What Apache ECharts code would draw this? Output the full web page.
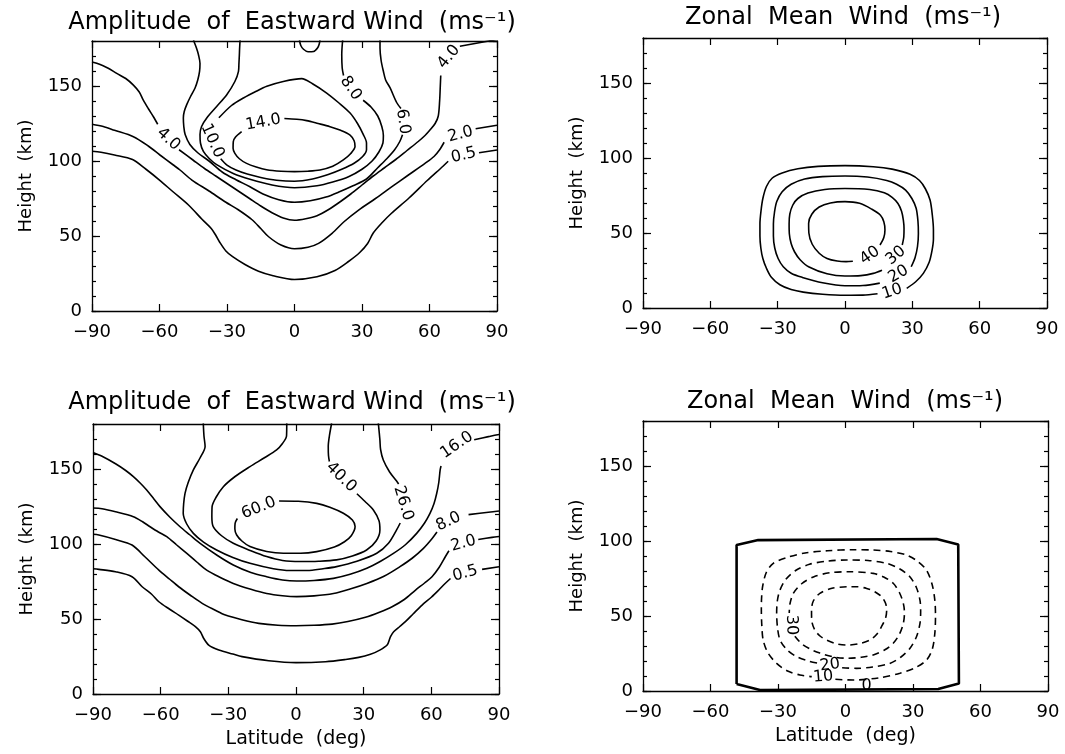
<!DOCTYPE html>
<html><head><meta charset="utf-8">
<script src="https://cdn.jsdelivr.net/npm/echarts@6/dist/echarts.min.js"></script>
<style>html,body{margin:0;padding:0;background:#fff}#c{width:1065px;height:754px}</style>
</head><body><div id="c"></div>
<script>
// ---------- DATA: contour lines as [latitude, height] points (null = gap for a label) ----------
// Top-left: Amplitude of Eastward Wind, levels 0.5 2 4 6 8 10 14
const TL_05 = [[-90,106.5],[-86,105.8],[-80,104],[-72,101],[-66,94.5],[-60,87.3],[-54,79.5],[-47,70.5],[-41,61],[-37,55],[-35,50.5],[-33.3,46],[-30.5,40],[-27.5,36.2],[-22,31],[-16,26.5],[-9.5,23.5],[0,21],[10,22.8],[18,27],[24,33],[29,39],[32.5,45],[35,52],[39,59],[43,65],[51,75.5],[59,87],[66,96.5],[68.3,99.8],null,[82,105.5],[90,107.3]];
const TL_2 = [[-90,124.5],[-85,123],[-80,120.5],[-71.6,116.2],[-65,110],[-59.8,104],[-54,97.5],[-50.9,94],[-45.6,87.3],[-38,80],[-30.5,72.5],[-25,67.5],[-19,61],[-15,55],[-11.5,49.5],[-6,44],[0,41.5],[6,42.5],[10.7,45.1],[16.7,51.8],[22,59.5],[28.5,67.3],[36,75],[43.3,82.9],[50,90],[58,98.4],[62,103],[64.5,107.5],[66.5,112.5],null,[80.5,121.5],[90,123.8]];
const TL_4 = [[-90,166],[-87.9,165.1],[-83,162],[-79,158.4],[-75,155],[-71.6,150.6],[-69,146],[-67.2,140.6],[-65,135],[-62.7,129.5],[-60.8,124.5],null,[-51.3,107.5],[-45,100.5],[-40,95],[-35,90],[-30,85],[-25,80],[-20,75],[-15,70],[-10,65.5],[-5,62],[0,60.5],[5,61.5],[10,63.5],[15,67.5],[20,72.5],[25,78],[30,84],[35,90],[40,95.5],[45,101],[50,107],[55,113],[58,117],[60.2,120.6],[62.5,125],[63.9,130],[64.5,140],[64.8,150],[65,157],null,[73.5,176.5],[90,181]];
const TL_6 = [[-44.9,180.5],[-43.5,175],[-42.7,170.9],[-42,165],[-42.2,159.8],[-43,154],[-44.2,148.7],[-46.2,143],[-47.9,137.6],[-49,133],[-49.4,128.7],[-49.2,123],[-48.6,117.6],[-46.5,111],[-43,105.5],[-38,100],[-32,92.5],[-26,87.5],[-20,83],[-14,78],[-7,74.2],[0,72.5],[7,73.5],[14,76],[20,79.5],[26,83.5],[32,88],[37,95.5],[41,101.5],[44.5,107.5],[46.8,113],[48,117.5],null,[47.3,135],[45.4,139],[42.5,148.7],[40.5,154],[39.5,159.8],[38.5,167],[38,175.3],[38,180.5]];
const TL_8 = [[-24.2,180.5],[-24.4,175],[-24.5,170.9],[-24.7,165],[-24.9,159.8],[-26.5,153],[-30.1,144.2],[-34.5,136.5],[-39,128.7],[-41.3,123],[-42,117.6],[-41.8,112],[-40.5,106.4],[-37.8,101.5],[-34.6,97.6],[-27,91.5],[-19.8,87.8],[-10,84],[0,82.2],[10,83.5],[17,86],[24,89.5],[30,94.5],[34.5,100],[37.5,106],[39.3,112],[39.5,117],[38.8,123],[37,130],[34,136],[30.5,140.5],null,[21.8,157],[21.2,162],[21,171],[21.4,180.5]];
const TL_10 = [[-33.6,128.8],[-28,137],[-22.7,142],[-17,146.5],[-12.3,149.8],[-5,153],[3.2,154.9],[8,151.5],[14.3,145.3],[19.5,139],[24.7,132],[28,125],[30.6,117.6],[32,112],[32,107.5],[30.3,103],[26.5,98.5],[21,94.5],[15,91],[8,88],[0,86.5],[-8,87.2],[-15,89],[-21,91.3],[-26,94],[-30,97.3],[-32.8,101.5]];
const TL_10B = [[2.2,180.5],[2.8,177],[4,174.5],[6,172.8],[8.5,173],[10.3,175.5],[11,178],[11.3,180.5]];
const TL_14 = [[-23.5,119.6],[-26.2,116],[-27.2,112.9],[-27.3,108.5],[-26.5,105.1],[-24.5,101.5],[-21.3,98.4],[-17,96],[-12.4,94.2],[-6,93.2],[0,92.9],[6,93.2],[11.3,94],[17,96.5],[21.7,100.7],[25,105],[26.9,109.6],[26.5,113.5],[24.7,117.3],[20.5,120.5],[15.8,122.9],[10.5,125],[5.4,126.9],[1,127.8],[-4.5,128.3]];
const TL_LABELS = [[-13.9,125.8,'14.0',10],[-36.5,113.5,'10.0',-66],[25,148.5,'8.0',-55],[48.2,126.3,'6.0',-82],[-56,114.5,'4.0',-42],[68.6,169.5,'4.0',51],[73.8,117.8,'2.0',15],[75.2,103.8,'0.5',13]];

// Top-right: Zonal Mean Wind, levels 10 20 30 40
const TR_10 = [[27.5,13.1],[31.5,17.5],[34.9,23.1],[37.5,30.5],[38.8,38.6],[39.4,46],[39.4,52],[38.9,62],[37.9,72],[35.8,79.5],[33.2,85],[29,89.2],[21,92.6],[12.6,94.2],[0,94.9],[-12,94.4],[-21,92.8],[-28,90],[-32.5,86.5],[-35,81],[-36.6,73],[-37.4,65],[-37.9,56],[-37.9,48],[-37.5,40],[-36.6,33],[-35,26.5],[-32.8,20.5],[-29,15.5],[-24,12.3],[-18.6,10.6],[-10,9.2],[0,8.5],[8,8.6],[14.5,9.5]];
const TR_20 = [[29.5,27.5],[31.2,33.5],[32.3,41],[32.7,49.7],[32.5,58],[31.7,66.5],[29.8,73],[27,78.6],[23,82.5],[18.6,85],[10,87.3],[0,88],[-10,87.6],[-18,86],[-24,82.5],[-28,77.5],[-30.4,71],[-31.4,64],[-31.9,56],[-31.9,48],[-31.3,40],[-29.8,33],[-27.5,27.5],[-24,23.2],[-19,20.4],[-10,16.8],[0,14.8],[8,15],[15.5,16.6]];
const TR_30 = [[25.5,42],[26.2,47.5],[26.3,53],[26,58.6],[25.2,64.5],[23.6,69.7],[21,73.8],[17.5,76.8],[11,79],[0,79.7],[-9,79],[-16.5,76.6],[-21,73],[-23.3,68.5],[-24.6,62.5],[-24.9,56],[-24.8,49.5],[-24,43],[-22.5,37.5],[-20,32.2],[-16,27.3],[-8,22.8],[0,21.3],[7,21.6],[12.6,23.1],[16.5,25.2]];
const TR_40 = [[15.6,42],[17.3,47],[17.8,52],[17.3,57.5],[15.8,61.8],[12,65.8],[6.5,69.8],[0,70.9],[-6.5,70],[-11.5,67.3],[-14.8,62.5],[-16.2,56.5],[-16.1,50],[-14.6,42.5],[-11.5,36.5],[-8,33],[-3.5,31.3],[0.5,30.9],[3.5,31.2]];
const TR_LABELS = [[11.1,35,'40',35],[22.7,35,'30',40],[23.8,22.6,'20',30],[21,10.9,'10',18]];

// Bottom-left: Amplitude of Eastward Wind, levels 0.5 2 8 16 26 40 60
const BL_05 = [[-90,83.5],[-87.4,83.1],[-80,81.5],[-72.7,78.2],[-68.2,71.5],[-64,66.5],[-60.8,61.5],[-56,56.5],[-52,52.6],[-48,48.5],[-44.6,44.9],[-42.4,41.5],[-40.9,37],[-38.7,32.6],[-34.2,29.3],[-28,26.6],[-23.9,24.9],[-12.1,22.2],[0,20.9],[13.1,21.5],[22,23],[27.8,24.4],[33,26.5],[36.7,28.9],[40.4,32.6],[41.9,38.2],[43.3,41.5],[46,45],[48.5,48.2],[52,53.5],[55.9,59.3],[60,64.5],[63.3,69.3],[66,73.5],[68.5,77],null,[82.5,83.1],[90,84.8]];
const BL_2 = [[-90,106.5],[-87.4,106],[-80,103],[-72.7,99.3],[-67,91.5],[-60.8,82.6],[-56,76.5],[-52,71.5],[-47,66],[-41.6,60.4],[-36,56],[-31.3,52.6],[-24,49.5],[-16.5,47.1],[-8,45.8],[0,45.5],[8,45.8],[16,46.6],[23,48.3],[30.8,51.1],[37,54.5],[42.6,58.2],[48,63],[53,69.3],[57,74],[60.3,78.2],[63.5,84.5],[66.2,91.5],[67.8,95.5],null,[80.8,103],[86.9,104.4],[90,105]];
const BL_8 = [[-90,124],[-86,123.5],[-80,121.5],[-72.1,118.2],[-68,114.8],[-64.7,111.5],[-61,108],[-57.3,104.9],[-53,99.5],[-48.4,93.7],[-44,88],[-39.6,82.6],[-34,78],[-27.8,73.7],[-20,69.8],[-13,67],[-6,65.5],[0.3,64.9],[8,65.4],[16.6,67],[24,70],[31.4,73.7],[39,78.5],[46.1,84.9],[51.5,90.5],[56.5,97.1],[60,103],[62.5,108],null,[76.5,119.6],[85.3,121.2],[90,122]];
const BL_16 = [[-90,161],[-86,158.5],[-80,153.5],[-75.5,149],[-72.1,144.9],[-69,140.5],[-66.2,136],[-63,130],[-60.3,124.9],[-56,118],[-51.4,111.5],[-47,106],[-42.5,100.4],[-35,92.5],[-27.8,86],[-20,81],[-13,78.2],[-6,76],[0.3,75.3],[8,75.7],[16.6,77.1],[24,79.8],[31.4,83.8],[37.5,88.5],[43.2,93.7],[48.5,99.5],[53.5,107.1],[57,114],[59.4,120.4],[61.2,127],[62.4,133.8],[63.3,141],[63.9,149.3],[64.3,152],null,[79,169.5],[85.3,171.6],[90,173]];
const BL_26 = [[-41.1,180.5],[-40.8,172],[-40.3,165],[-42.5,157.5],[-45.5,149.4],[-47.8,141],[-49.2,133.8],[-49.8,127],[-50,120.5],[-48.5,113.5],[-45.5,107.1],[-41,101.3],[-35.2,96],[-28,91],[-20.4,87.1],[-10,83.5],[-2.7,82.3],[5,82.3],[12,83.5],[18,84.9],[27,88.5],[35.8,93.8],[41,100.5],[44.6,109.4],[46.2,114],null,[45.5,140],[44.6,142],[41.5,148],[38.7,156],[37.5,163],[37.2,169.4],[36.5,180.5]];
const BL_40 = [[-4.1,180.5],[-4.2,172],[-6,167],[-8.6,162.7],[-14,157.5],[-20.4,151.6],[-27,145],[-32.2,138.2],[-35.5,131],[-37.2,124.9],[-37.3,118],[-36.7,111.6],[-33,105.5],[-27.8,100.5],[-20,95.5],[-13,91.6],[-6,89],[1.8,88.3],[10,88.5],[18,89.4],[25,92],[31.3,96],[35.5,102],[37.2,109.4],[36.8,115.5],[34.3,122.7],[30.5,128.5],[27,133.5],null,[14.8,155],[14.4,159],[14.3,165],[14.8,172],[15.8,180.5]];
const BL_60 = [[-26,117],[-27,113.8],[-27.1,110],[-26.3,106],[-24,102],[-20.4,98.3],[-13,95],[-5.6,93.8],[2,93.8],[9.2,94.9],[17,98],[21.5,101.5],[24.5,105.5],[26.2,111.6],[25,116],[21,120.5],[15,124.5],[9.2,127.1],[1,128.5],[-7.5,128.7]];
const BL_LABELS = [[-16.5,124,'60.0',22],[20,144.5,'40.0',-44],[47.6,127.1,'26.0',-73],[71.3,166,'16.0',34],[67.6,114.9,'8.0',25],[74.2,100.4,'2.0',15],[75,80.4,'0.5',15]];

// Bottom-right: Zonal Mean Wind, levels 0 (solid), -10 -20 -30 -40 (dashed)
const BR_0 = [[-48.4,4.6],[-48.4,97.3],[-38.8,100.6],[40.5,101.3],[50.1,97.7],[50.4,5],[41.2,1.3],[-38,0.6],[-48.4,4.6]];
const BR_M10 = [[-4.5,7.8],[3.4,7.3],[15,8.8],[24.2,11.8],[31,15.5],[36,20.6],[38.6,28],[39.7,38.4],[40,50],[39.7,60.6],[38.5,71],[36,80.6],[32,86.5],[27.2,90.6],[20,93],[12.3,94],[3.4,94.2],[-8,93.5],[-18,92],[-26,89],[-32.1,85.1],[-35.2,79],[-36.8,70],[-37.3,62],[-37.4,54],[-37.2,44],[-36.6,34],[-34.5,25.5],[-30.6,18.4],[-26,13.5],[-20.3,10.7],[-15,9.6]];
const BR_M20 = [[-1.5,15.5],[4.9,15.1],[12,16],[19.7,18.4],[24.5,22.5],[28.6,28.4],[31.5,36],[33.1,45.1],[33.4,53],[33.1,60.6],[31.5,69],[28.6,76.2],[24,81.5],[18.3,85.1],[10,87],[0.5,87.3],[-8,86.6],[-16,84.5],[-22,80.5],[-26.5,74.5],[-29.2,67],[-30.3,60],[-30.6,51.8],[-30.2,42],[-29.1,34],[-26,27.5],[-21.7,22.9],[-16,19.8],[-12.5,18.6]];
const BR_M30 = [[-22.5,36.5],[-19.5,31.5],[-15.5,27.8],[-11.4,25.3],[-5,22.6],[1.2,21.8],[7,22.5],[12.3,24],[17.5,27.5],[21.2,31.8],[24,38],[25.7,45.1],[26.2,52],[25.7,58.4],[24,65.5],[21.2,71.8],[17,76],[12.3,78.4],[1.2,79.5],[-7,78.8],[-14,76.2],[-19.5,71.5],[-23.2,65.1],[-24.7,58],[-25,52]];
const BR_M40 = [[0.5,69.5],[-6,68.5],[-11.4,65.1],[-14.3,60],[-15.1,54],[-15,47],[-13.6,40.6],[-11.2,36.5],[-8.4,34],[-4,31.5],[0.5,30.6],[6,31.5],[10.9,34],[14,38],[16,42.9],[17.8,48.5],[18.3,54],[17.8,58.5],[16,62.9],[13,66.2],[9.4,68.4],[5,69.5],[0.5,69.5]];
const BR_LABELS = [[-24,44,'30',-88],[-6.9,17.3,'20',8],[-9.9,9.5,'10',5],[9.4,3.5,'0',0]];

const TITLE_AMP = 'Amplitude  of  Eastward Wind  (ms\u207B\u00B9)';
const TITLE_ZON = 'Zonal  Mean  Wind  (ms\u207B\u00B9)';

// ---------- LAYOUT / STYLE ----------
const FONT = '"DejaVu Sans", sans-serif';
const panels = [
  {grid:{left:92,top:41,width:405,height:270}, title:TITLE_AMP, tx:292, ty:23, xName:'',
   lines:[TL_05,TL_2,TL_4,TL_6,TL_8,TL_10,TL_10B,TL_14].map(d=>({d})), labels:TL_LABELS},
  {grid:{left:643,top:38,width:404,height:270}, title:TITLE_ZON, tx:843, ty:18, xName:'',
   lines:[TR_10,TR_20,TR_30,TR_40].map(d=>({d})), labels:TR_LABELS},
  {grid:{left:93,top:424,width:406,height:270}, title:TITLE_AMP, tx:292, ty:403, xName:'Latitude  (deg)',
   lines:[BL_05,BL_2,BL_8,BL_16,BL_26,BL_40,BL_60].map(d=>({d})), labels:BL_LABELS},
  {grid:{left:643,top:421,width:405,height:270}, title:TITLE_ZON, tx:845, ty:402, xName:'Latitude  (deg)',
   lines:[{d:BR_0,w:2.6,smooth:false}].concat([BR_M10,BR_M20,BR_M30,BR_M40].map(d=>({d,dash:true}))), labels:BR_LABELS}
];

function segments(arr){
  const out=[]; let cur=[];
  arr.forEach(p=>{ if(p===null){ if(cur.length) out.push(cur); cur=[]; } else cur.push(p); });
  if(cur.length) out.push(cur);
  return out;
}
const axLine = {show:true, onZero:false, lineStyle:{color:'#000', width:1.3}};
const noLine = {show:false, onZero:false};
const tickStyle = {color:'#000', width:1.2};
const fmtLat = v => v < 0 ? '\u2212' + (-v) : String(v);

const grids=[], xAxes=[], yAxes=[], series=[], graphics=[];
panels.forEach((p,i)=>{
  grids.push(Object.assign({containLabel:false, outerBoundsMode:'none'}, p.grid));
  xAxes.push({gridIndex:i, type:'value', min:-90, max:90, interval:30, position:'bottom',
    axisLine:axLine, axisTick:{inside:true, length:7, lineStyle:tickStyle}, splitLine:{show:false},
    axisLabel:{color:'#000', fontSize:18, fontFamily:FONT, margin:12, formatter:fmtLat},
    name:p.xName, nameLocation:'middle', nameGap:36, nameTextStyle:{color:'#000', fontSize:19, fontFamily:FONT}});
  xAxes.push({gridIndex:i, type:'value', min:-90, max:90, interval:30, position:'top',
    axisLine:axLine, axisTick:{inside:true, length:7, lineStyle:tickStyle}, splitLine:{show:false}, axisLabel:{show:false}});
  yAxes.push({gridIndex:i, type:'value', min:0, max:180, interval:50, position:'left',
    axisLine:axLine, axisTick:{inside:true, length:8, lineStyle:tickStyle}, splitLine:{show:false},
    axisLabel:{color:'#000', fontSize:18, fontFamily:FONT, margin:10, showMaxLabel:false},
    name:'Height  (km)', nameLocation:'middle', nameGap:57, nameRotate:90,
    nameTextStyle:{color:'#000', fontSize:18, fontFamily:FONT}});
  yAxes.push({gridIndex:i, type:'value', min:0, max:180, interval:10, position:'left',
    axisLine:noLine, axisTick:{inside:true, length:4, lineStyle:tickStyle}, splitLine:{show:false}, axisLabel:{show:false}});
  yAxes.push({gridIndex:i, type:'value', min:0, max:180, interval:50, position:'right',
    axisLine:axLine, axisTick:{inside:true, length:8, lineStyle:tickStyle}, splitLine:{show:false}, axisLabel:{show:false}});
  yAxes.push({gridIndex:i, type:'value', min:0, max:180, interval:10, position:'right',
    axisLine:noLine, axisTick:{inside:true, length:4, lineStyle:tickStyle}, splitLine:{show:false}, axisLabel:{show:false}});
  p.lines.forEach(c=>{
    segments(c.d).forEach(seg=>{
      series.push({type:'line', xAxisIndex:2*i, yAxisIndex:4*i, data:seg, showSymbol:false, symbol:'none',
        smooth: c.smooth===false ? false : 0.3, silent:true, animation:false,
        lineStyle:{color:'#000', width:c.w||1.6, type:c.dash?[7,5]:'solid'}});
    });
  });
  series.push({type:'scatter', xAxisIndex:2*i, yAxisIndex:4*i, symbolSize:1, silent:true, animation:false,
    itemStyle:{color:'rgba(255,255,255,0)'},
    data:p.labels.map(l=>({name:l[2], value:[l[0],l[1]], label:{rotate:l[3]}})),
    label:{show:true, position:'inside', formatter:'{b}', color:'#000', opacity:1, textBorderWidth:0,
      fontSize:16, fontFamily:FONT}});
  graphics.push({type:'text', x:p.tx, y:p.ty, silent:true,
    style:{text:p.title, fill:'#000', font:'24px '+FONT, align:'center', verticalAlign:'middle', textAlign:'center', textVerticalAlign:'middle'}});
});

const chart = echarts.init(document.getElementById('c'), null, {renderer:'canvas'});
chart.setOption({backgroundColor:'#fff', animation:false, grid:grids, xAxis:xAxes, yAxis:yAxes, series:series, graphic:graphics});
</script></body></html>
